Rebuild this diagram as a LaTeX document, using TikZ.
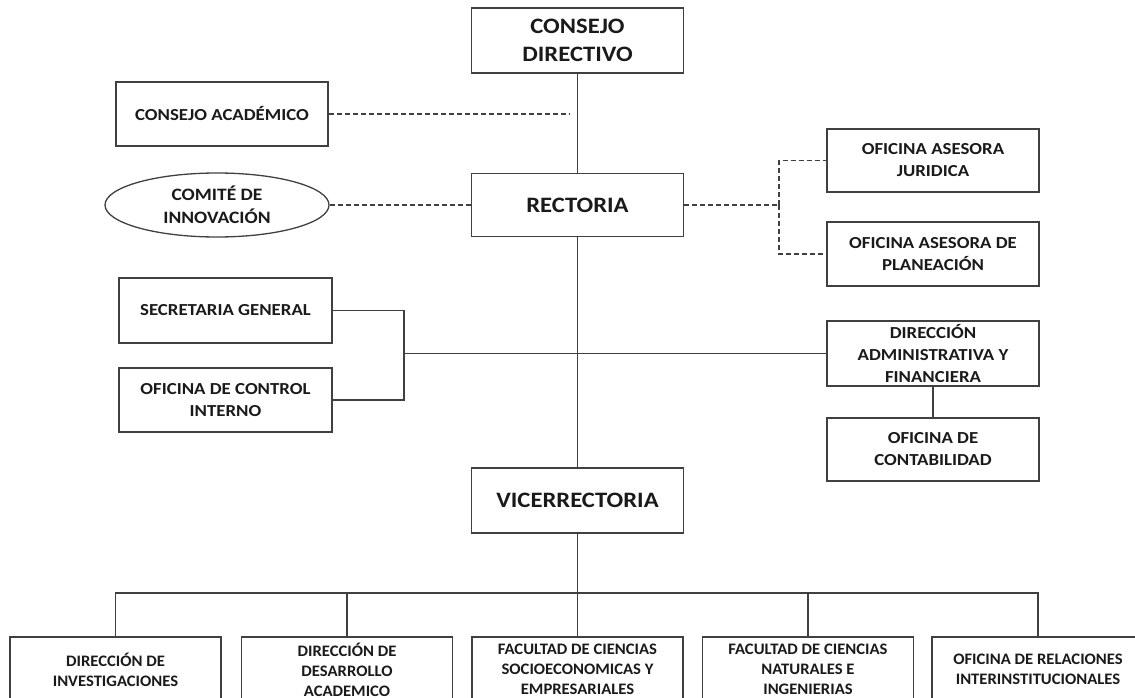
\documentclass[tikz,border=0pt]{standalone}
\usepackage{fontspec}
\setmainfont{Carlito}
\newfontfamily\midfont{Carlito}[FakeStretch=1.12]
\newfontfamily\lowfont{Carlito}[FakeStretch=1.04]
\usetikzlibrary{shapes.geometric}
\definecolor{linec}{HTML}{404040}
\definecolor{textc}{HTML}{1A1A1A}
\begin{document}
\begin{tikzpicture}[x=1pt,y=-1pt,
  box/.style={draw=linec, line width=1.3pt, fill=white, align=center, text=textc,
    font=\midfont\bfseries\fontsize{16.8}{22}\selectfont, inner sep=0pt,
    minimum width=212pt, minimum height=64pt},
  bigbox/.style={box, font=\midfont\bfseries\fontsize{22}{28}\selectfont},
  oval/.style={box, ellipse, minimum width=224pt, minimum height=64pt,
    font=\midfont\bfseries\fontsize{17.4}{23}\selectfont},
  lowbox/.style={box, font=\lowfont\bfseries\fontsize{16}{20}\selectfont,
    minimum width=211pt, minimum height=65pt},
  conn/.style={draw=linec, line width=1.3pt},
  dsh/.style={conn, dash pattern=on 5.3pt off 2.7pt}]
\useasboundingbox (0,0) rectangle (1135,698);
\clip (0,0) rectangle (1135,698);
\fill[white] (0,0) rectangle (1135,698);

% nodes
\node[bigbox, minimum height=65pt] (cd) at (577.5,40.5) {CONSEJO\\DIRECTIVO};
\node[box] (ca) at (222,114) {CONSEJO ACADÉMICO};
\node[oval] (ci) at (217,205) {COMITÉ DE\\INNOVACIÓN};
\node[bigbox, minimum height=63pt] (rec) at (577.5,205) {RECTORIA};
\node[box, minimum height=63pt] (oaj) at (933,160.5) {OFICINA ASESORA\\JURIDICA};
\node[box] (oap) at (933,254) {OFICINA ASESORA DE\\PLANEACIÓN};
\node[box, minimum width=213pt, minimum height=65pt] (sg) at (225.5,310.5) {SECRETARIA GENERAL};
\node[box, minimum width=213pt] (oci) at (225.5,400) {OFICINA DE CONTROL\\INTERNO};
\node[box, minimum height=65pt] (dad) at (933,353.5) {DIRECCIÓN\\ADMINISTRATIVA Y\\FINANCIERA};
\node[box, minimum height=63pt] (oc) at (933,449.5) {OFICINA DE\\CONTABILIDAD};
\node[bigbox, minimum height=65pt] (vic) at (577.5,500.5) {VICERRECTORIA};

\node[lowbox] (b1) at (115.5,669.5) {DIRECCIÓN DE\\INVESTIGACIONES};
\node[lowbox] (b2) at (347,669.5) {DIRECCIÓN DE\\DESARROLLO\\ACADEMICO};
\node[lowbox] (b3) at (577.5,669.5) {FACULTAD DE CIENCIAS\\SOCIOECONOMICAS Y\\EMPRESARIALES};
\node[lowbox] (b4) at (808,669.5) {FACULTAD DE CIENCIAS\\NATURALES E\\INGENIERIAS};
\node[lowbox, minimum width=212pt] (b5) at (1038,669.5) {OFICINA DE RELACIONES\\INTERINSTITUCIONALES};

% junction coordinates
\coordinate (caEnd) at (570,114);
\coordinate (rj) at (779,205);
\coordinate (lj) at (404,353.5);
\coordinate (bus) at (577.5,593);

% solid connectors
\draw[conn] (cd) -- (rec);
\draw[conn] (rec) -- (vic);
\draw[conn] (vic) -- (bus);
\draw[conn] (b1.north) -- (b1.north |- bus) -- (b5.north |- bus) -- (b5.north);
\draw[conn] (b2.north) -- (b2.north |- bus);
\draw[conn] (b3.north) -- (bus);
\draw[conn] (b4.north) -- (b4.north |- bus);
\draw[conn] (sg.east) -| (lj);
\draw[conn] (oci.east) -| (lj);
\draw[conn] (lj) -- (dad.west);
\draw[conn] (dad) -- (oc);

% dashed connectors
\draw[dsh] (ca.east) -- (caEnd);
\draw[dsh] (ci.east) -- (rec.west);
\draw[dsh] (rec.east) -- (rj);
\draw[dsh] (rj) |- (oaj.west);
\draw[dsh] (rj) |- (oap.west);
\end{tikzpicture}
\end{document}
